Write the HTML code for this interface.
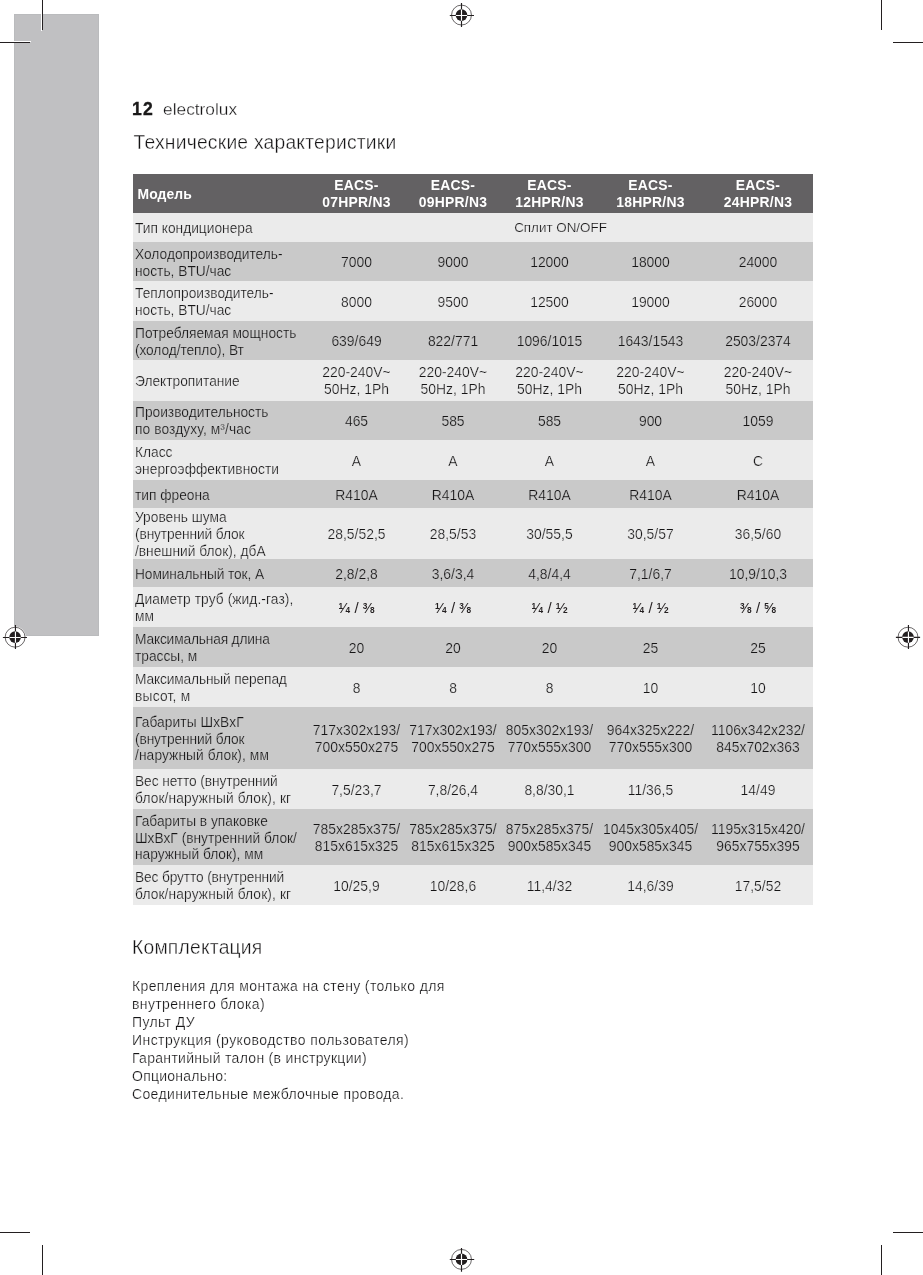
<!DOCTYPE html>
<html lang="ru">
<head>
<meta charset="utf-8">
<title>electrolux — Технические характеристики</title>
<style>
html,body{margin:0;padding:0;background:#fff;}
body{width:923px;height:1275px;position:relative;overflow:hidden;font-family:"Liberation Sans",sans-serif;color:#151415;}
.abs{position:absolute;}
.tab{position:absolute;left:14px;top:14px;width:85px;height:622px;background:#c0c0c2;box-sizing:border-box;border:1px solid #babbbd;}
.ln{position:absolute;background:#231f20;}
.pg{-webkit-text-stroke:0.3px #fff;position:absolute;left:132px;top:97px;font-size:17.3px;line-height:24px;white-space:nowrap;}
.pg b{-webkit-text-stroke:0.35px #1a1919;font-weight:bold;color:#1a1919;margin-right:9.3px;font-size:17.6px;letter-spacing:1.1px;}
h1,h2{-webkit-text-stroke:0.36px #fff;position:absolute;margin:0;font-weight:normal;font-size:19.3px;line-height:24px;white-space:nowrap;left:132px;letter-spacing:0.22px;}
.tbl{position:absolute;left:133px;top:174px;width:680px;}
.row{position:absolute;left:0;width:680px;display:flex;align-items:center;box-sizing:border-box;padding-top:2px;font-size:13.9px;line-height:16.8px;}
.l{background:#ebebeb;-webkit-text-stroke:0.24px #ebebeb;}
.d{background:#c9c9c9;-webkit-text-stroke:0.24px #c9c9c9;}
.h{background:#636163;color:#fff;font-weight:bold;line-height:16.9px;padding-top:0;letter-spacing:0.25px;}
.row>div{text-align:center;white-space:nowrap;flex:none;}
.row>.c0{width:175px;text-align:left;padding-left:2px;box-sizing:border-box;font-size:13.75px;position:relative;top:1px;}
.c1{width:97px}.c2{width:96px}.c3{width:97px}.c4{width:105px}.c5{width:110px}
.h>.c0{padding-left:4.5px;font-size:13.9px;letter-spacing:0.08px;}
.fr{-webkit-text-stroke:0;font-size:15px;color:#231f20;position:relative;top:0;}
.fr sup,.fr sub{font-size:8.3px;font-weight:bold;line-height:0;vertical-align:baseline;position:relative;}
.fr sup{top:-4.1px;}
.body{-webkit-text-stroke:0.24px #fff;position:absolute;left:132px;top:976.6px;font-size:14px;line-height:18.05px;white-space:nowrap;}
</style>
</head>
<body>
<div class="tab"></div>
<!-- crop marks -->
<div class="ln" style="left:41px;top:0;width:1px;height:31px;background:#fff"></div>
<div class="ln" style="left:0;top:41px;width:31px;height:1px;background:#fff"></div>
<div class="ln" style="left:42px;top:0;width:1px;height:30px"></div>
<div class="ln" style="left:0;top:42px;width:30px;height:1px"></div>
<div class="ln" style="left:881px;top:0;width:1px;height:30px"></div>
<div class="ln" style="left:893px;top:42px;width:30px;height:1px"></div>
<div class="ln" style="left:42px;top:1245px;width:1px;height:30px"></div>
<div class="ln" style="left:0;top:1232px;width:30px;height:1px"></div>
<div class="ln" style="left:881px;top:1245px;width:1px;height:30px"></div>
<div class="ln" style="left:893px;top:1232px;width:30px;height:1px"></div>
<!-- registration marks -->
<svg class="abs" style="left:0;top:0" width="923" height="1275" viewBox="0 0 923 1275">
<g><circle cx="461.5" cy="15.05" r="10.7" fill="#fff"/><circle cx="461.5" cy="15.05" r="9.95" fill="#fff" stroke="#3a3637" stroke-width="0.75"/><circle cx="461.5" cy="15.05" r="5.85" fill="#231f20"/><path d="M449.8 15.45H474.0M461.5 3.0V27.0" stroke="#231f20" stroke-width="1.15"/><path d="M455.9 15.45H467.1M461.5 9.45V20.65" stroke="#fff" stroke-width="1.15"/></g>
<g><circle cx="461.5" cy="1259.4" r="10.7" fill="#fff"/><circle cx="461.5" cy="1259.4" r="9.95" fill="#fff" stroke="#3a3637" stroke-width="0.75"/><circle cx="461.5" cy="1259.4" r="5.85" fill="#231f20"/><path d="M449.8 1259.45H474.2M461.5 1248.0V1271.7" stroke="#231f20" stroke-width="1.15"/><path d="M455.9 1259.45H467.1M461.5 1253.8V1265.0" stroke="#fff" stroke-width="1.15"/></g>
<g><circle cx="15.1" cy="637.2" r="10.7" fill="#fff"/><circle cx="15.1" cy="637.2" r="9.95" fill="#fff" stroke="#3a3637" stroke-width="0.75"/><circle cx="15.1" cy="637.2" r="5.85" fill="#231f20"/><path d="M2.9 637.45H27.0M15.45 625.0V648.9" stroke="#231f20" stroke-width="1.15"/><path d="M9.5 637.45H20.7M15.45 631.6V642.8" stroke="#fff" stroke-width="1.15"/></g>
<g><circle cx="908.0" cy="637.2" r="10.7" fill="#fff"/><circle cx="908.0" cy="637.2" r="9.95" fill="#fff" stroke="#3a3637" stroke-width="0.75"/><circle cx="908.0" cy="637.2" r="5.85" fill="#231f20"/><path d="M895.9 637.4H920.1M908.45 625.0V648.9" stroke="#231f20" stroke-width="1.15"/><path d="M902.4 637.4H913.6M908.45 631.6V642.8" stroke="#fff" stroke-width="1.15"/></g>
</svg>

<div class="pg"><b>12</b>electrolux</div>
<h1 style="top:131px;left:133.5px">Технические характеристики</h1>

<div class="tbl">
<div class="row h" style="top:0;height:39px"><div class="c0">Модель</div><div class="c1">EACS-<br>07HPR/N3</div><div class="c2">EACS-<br>09HPR/N3</div><div class="c3">EACS-<br>12HPR/N3</div><div class="c4">EACS-<br>18HPR/N3</div><div class="c5">EACS-<br>24HPR/N3</div></div>
<div class="row l" style="top:39px;height:29px"><div class="c0">Тип кондиционера</div><div style="width:505px;font-size:13.4px">Сплит ON/OFF</div></div>
<div class="row d" style="top:68px;height:39px"><div class="c0">Холодопроизводитель-<br>ность, BTU/час</div><div class="c1">7000</div><div class="c2">9000</div><div class="c3">12000</div><div class="c4">18000</div><div class="c5">24000</div></div>
<div class="row l" style="top:107px;height:40px"><div class="c0">Теплопроизводитель-<br>ность, BTU/час</div><div class="c1">8000</div><div class="c2">9500</div><div class="c3">12500</div><div class="c4">19000</div><div class="c5">26000</div></div>
<div class="row d" style="top:147px;height:39px"><div class="c0">Потребляемая мощность<br><span style="letter-spacing:-0.090px">(холод/тепло), Вт</span></div><div class="c1">639/649</div><div class="c2">822/771</div><div class="c3">1096/1015</div><div class="c4">1643/1543</div><div class="c5">2503/2374</div></div>
<div class="row l" style="top:186px;height:41px;padding-top:1px"><div class="c0">Электропитание</div><div class="c1">220-240V~<br>50Hz, 1Ph</div><div class="c2">220-240V~<br>50Hz, 1Ph</div><div class="c3">220-240V~<br>50Hz, 1Ph</div><div class="c4">220-240V~<br>50Hz, 1Ph</div><div class="c5">220-240V~<br>50Hz, 1Ph</div></div>
<div class="row d" style="top:227px;height:39px;padding-top:1px"><div class="c0">Производительность<br><span style="letter-spacing:0.110px">по воздуху, м³/час</span></div><div class="c1">465</div><div class="c2">585</div><div class="c3">585</div><div class="c4">900</div><div class="c5">1059</div></div>
<div class="row l" style="top:266px;height:40px"><div class="c0">Класс<br><span style="letter-spacing:0.050px">энергоэффективности</span></div><div class="c1">A</div><div class="c2">A</div><div class="c3">A</div><div class="c4">A</div><div class="c5">C</div></div>
<div class="row d" style="top:306px;height:28px"><div class="c0">тип фреона</div><div class="c1">R410A</div><div class="c2">R410A</div><div class="c3">R410A</div><div class="c4">R410A</div><div class="c5">R410A</div></div>
<div class="row l" style="top:334px;height:51px"><div class="c0">Уровень шума<br><span style="letter-spacing:-0.125px">(внутренний блок</span><br>/внешний блок), дбА</div><div class="c1">28,5/52,5</div><div class="c2">28,5/53</div><div class="c3">30/55,5</div><div class="c4">30,5/57</div><div class="c5">36,5/60</div></div>
<div class="row d" style="top:385px;height:28px"><div class="c0"><span style="letter-spacing:-0.095px">Номинальный ток, А</span></div><div class="c1">2,8/2,8</div><div class="c2">3,6/3,4</div><div class="c3">4,8/4,4</div><div class="c4">7,1/6,7</div><div class="c5">10,9/10,3</div></div>
<div class="row l" style="top:413px;height:40px"><div class="c0"><span style="letter-spacing:0.083px">Диаметр труб (жид.-газ),</span><br>мм</div><div class="c1 fr"><sup>1</sup>⁄<sub>4</sub> / <sup>3</sup>⁄<sub>8</sub></div><div class="c2 fr"><sup>1</sup>⁄<sub>4</sub> / <sup>3</sup>⁄<sub>8</sub></div><div class="c3 fr"><sup>1</sup>⁄<sub>4</sub> / <sup>1</sup>⁄<sub>2</sub></div><div class="c4 fr"><sup>1</sup>⁄<sub>4</sub> / <sup>1</sup>⁄<sub>2</sub></div><div class="c5 fr"><sup>3</sup>⁄<sub>8</sub> / <sup>5</sup>⁄<sub>8</sub></div></div>
<div class="row d" style="top:453px;height:40px"><div class="c0"><span style="letter-spacing:-0.170px">Максимальная длина</span><br>трассы, м</div><div class="c1">20</div><div class="c2">20</div><div class="c3">20</div><div class="c4">25</div><div class="c5">25</div></div>
<div class="row l" style="top:493px;height:40px"><div class="c0"><span style="letter-spacing:-0.150px">Максимальный перепад</span><br><span style="letter-spacing:0.250px">высот, м</span></div><div class="c1">8</div><div class="c2">8</div><div class="c3">8</div><div class="c4">10</div><div class="c5">10</div></div>
<div class="row d" style="top:533px;height:62px"><div class="c0"><span style="letter-spacing:0.070px">Габариты ШхВхГ</span><br><span style="letter-spacing:-0.125px">(внутренний блок</span><br><span style="letter-spacing:0.105px">/наружный блок), мм</span></div><div class="c1">717x302x193/<br>700x550x275</div><div class="c2">717x302x193/<br>700x550x275</div><div class="c3">805x302x193/<br>770x555x300</div><div class="c4">964x325x222/<br>770x555x300</div><div class="c5">1106x342x232/<br>845x702x363</div></div>
<div class="row l" style="top:595px;height:40px"><div class="c0"><span style="letter-spacing:-0.095px">Вес нетто (внутренний</span><br><span style="letter-spacing:0.130px">блок/наружный блок), кг</span></div><div class="c1">7,5/23,7</div><div class="c2">7,8/26,4</div><div class="c3">8,8/30,1</div><div class="c4">11/36,5</div><div class="c5">14/49</div></div>
<div class="row d" style="top:635px;height:56px"><div class="c0">Габариты в упаковке<br>ШхВхГ (внутренний блок/<br>наружный блок), мм</div><div class="c1">785x285x375/<br>815x615x325</div><div class="c2">785x285x375/<br>815x615x325</div><div class="c3">875x285x375/<br>900x585x345</div><div class="c4">1045x305x405/<br>900x585x345</div><div class="c5">1195x315x420/<br>965x755x395</div></div>
<div class="row l" style="top:691px;height:40px"><div class="c0"><span style="letter-spacing:-0.136px">Вес брутто (внутренний</span><br><span style="letter-spacing:0.130px">блок/наружный блок), кг</span></div><div class="c1">10/25,9</div><div class="c2">10/28,6</div><div class="c3">11,4/32</div><div class="c4">14,6/39</div><div class="c5">17,5/52</div></div>
</div>

<h2 style="top:936px">Комплектация</h2>
<div class="body">
<div style="letter-spacing:0.37px">Крепления для монтажа на стену (только для</div>
<div style="letter-spacing:0.37px">внутреннего блока)</div>
<div style="letter-spacing:0.37px">Пульт ДУ</div>
<div style="letter-spacing:0.43px">Инструкция (руководство пользователя)</div>
<div style="letter-spacing:0.30px">Гарантийный талон (в инструкции)</div>
<div style="letter-spacing:0.25px">Опционально:</div>
<div style="letter-spacing:0.36px">Соединительные межблочные провода.</div>
</div>
</body>
</html>
